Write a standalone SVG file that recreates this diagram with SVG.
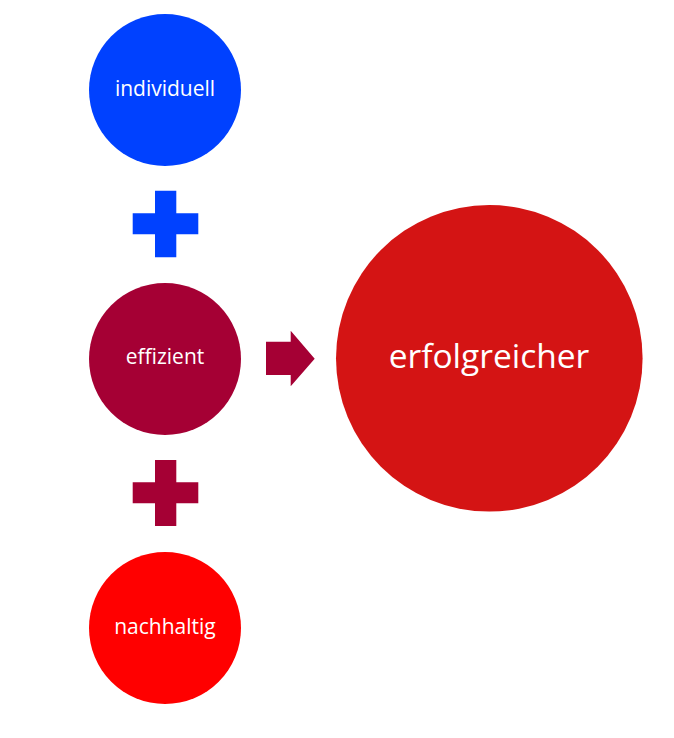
<svg xmlns="http://www.w3.org/2000/svg" width="674" height="738" viewBox="0 0 674 738">
<style>
text{font-family:"Open Sans","Liberation Sans",sans-serif;fill:#fff;text-anchor:middle;dominant-baseline:central}
.s{font-size:21px}
.b{font-size:33.5px}
</style>
<rect width="674" height="738" fill="#fff"/>
<g id="individuell"><circle cx="165" cy="90" r="76" fill="#0041FF"/><text class="s" x="165" y="88">individuell</text></g>
<g id="effizient"><circle cx="165" cy="359" r="76" fill="#A50034"/><text class="s" x="165" y="356">effizient</text></g>
<g id="nachhaltig"><circle cx="165" cy="628" r="76" fill="#FF0000"/><text class="s" x="165" y="626">nachhaltig</text></g>
<g id="erfolgreicher"><circle cx="489.3" cy="358.3" r="153.3" fill="#D41414"/><text class="b" x="489" y="355">erfolgreicher</text></g>
<g id="connectors">
<path d="M155 190.7H176.3V213.3H198.3V234.3H176.3V257.3H155V234.3H132.7V213.3H155Z" fill="#0041FF"/>
<path d="M155 460H176.3V482.3H198.3V503.3H176.3V526H155V503.3H132.7V482.3H155Z" fill="#A50034"/>
<path d="M266 341.7H290.7V330.7L314.7 358.7L290.7 386.3V375H266Z" fill="#A50034"/>
</g>
</svg>
